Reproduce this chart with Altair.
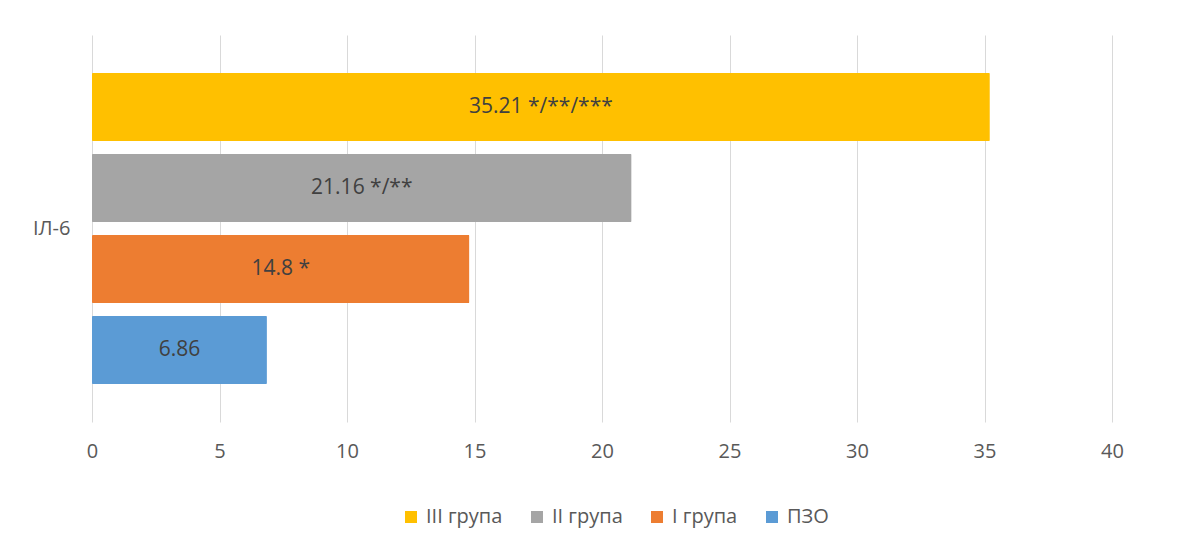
import altair as alt
import pandas as pd

category = "ІЛ-6"
groups = ["III група", "II група", "I група", "ПЗО"]
values = [35.21, 21.16, 14.8, 6.86]
labels = ["35.21 */**/***", "21.16 */**", "14.8 *", "6.86"]
colors = ["#FFC000", "#A5A5A5", "#ED7D31", "#5B9BD5"]
ticks = [0, 5, 10, 15, 20, 25, 30, 35, 40]

df = pd.DataFrame({"cat": [category] * len(groups), "group": groups,
                   "value": values, "label": labels})

FONT = "Open Sans"

y = alt.Y("cat:N", title=None,
          scale=alt.Scale(paddingInner=0, paddingOuter=0),
          axis=alt.Axis(domain=False, ticks=False, grid=False, labelFontSize=20,
                        labelColor="#595959", labelPadding=22, labelFont=FONT))
yoff = alt.YOffset("group:N", sort=groups,
                   scale=alt.Scale(paddingInner=0.16, paddingOuter=0.47))

bars = alt.Chart(df).mark_bar(cornerRadius=1).encode(
    x=alt.X("value:Q", title=None,
            scale=alt.Scale(domain=[0, 40], nice=False),
            axis=alt.Axis(values=ticks, grid=True, gridColor="#D9D9D9",
                          domain=False, ticks=False, labelFontSize=20,
                          labelFlush=False, labelOverlap=False,
                          labelColor="#595959", labelPadding=19, labelFont=FONT)),
    y=y,
    yOffset=yoff,
    color=alt.Color("group:N", sort=groups,
                    scale=alt.Scale(domain=groups, range=colors),
                    legend=alt.Legend(title=None, orient="none", direction="horizontal",
                                      legendX=309, legendY=472,
                                      symbolType="square", symbolSize=144,
                                      symbolStrokeWidth=0,
                                      labelFontSize=20, labelColor="#595959",
                                      labelFont=FONT, labelOffset=5,
                                      columnPadding=24)),
)

text = alt.Chart(df).transform_calculate(mid="datum.value / 2").mark_text(
    fontSize=21, color="#404040", font=FONT
).encode(
    x=alt.X("mid:Q"),
    y=y,
    yOffset=yoff,
    text="label:N",
)

chart = alt.layer(bars, text).properties(
    width=1020, height=387,
    background="white",
    autosize=alt.AutoSizeParams(type="none"),
    padding={"left": 84, "top": 27, "right": 66, "bottom": 112},
).configure_view(stroke=None)

chart.save("out.html", embed_options={"renderer": "svg", "actions": False})
